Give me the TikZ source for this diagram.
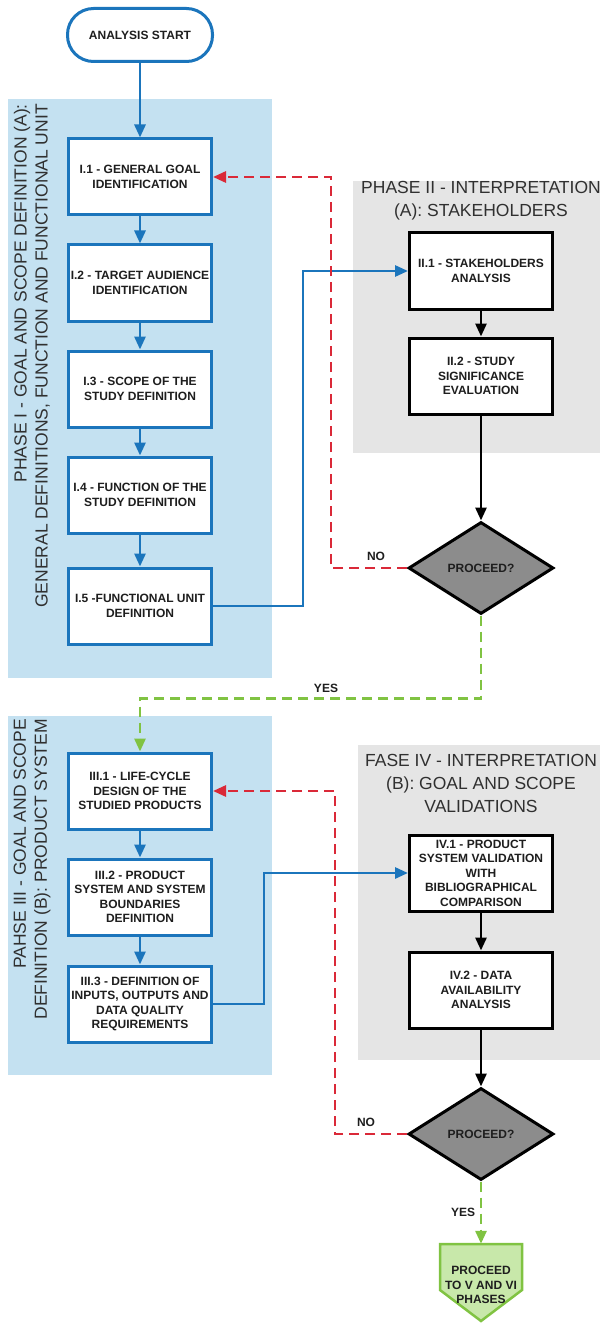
\documentclass[tikz,border=0pt]{standalone}
\usepackage{fontspec}
\setmainfont{Liberation Sans}
\usetikzlibrary{shapes, shapes.geometric, arrows.meta, positioning}

\definecolor{fondoazul}{RGB}{196,225,241}
\definecolor{fondogris}{RGB}{229,229,229}
\definecolor{lineaazul}{RGB}{27,117,188}
\definecolor{rojo}{RGB}{218,41,56}
\definecolor{verde}{RGB}{128,195,66}
\definecolor{verdeclaro}{RGB}{200,232,170}
\definecolor{rombo}{RGB}{140,140,140}
\definecolor{texto}{RGB}{30,30,30}
\definecolor{textofase}{RGB}{48,48,48}

\tikzstyle{inicio} = [draw=lineaazul, line width=3pt, fill=white, rectangle, rounded corners=26pt, minimum width=145pt, minimum height=53pt, font=\fontsize{12}{14.5}\selectfont\bfseries, text=texto]
\tikzstyle{pasoazul} = [draw=lineaazul, line width=3pt, fill=white, rectangle, minimum width=143pt, minimum height=76pt, inner sep=2pt, align=center, font=\fontsize{12}{14.5}\selectfont\bfseries, text=texto]
\tikzstyle{pasonegro} = [pasoazul, draw=black]
\tikzstyle{decision} = [draw=black, line width=3pt, fill=rombo, diamond, minimum width=145pt, minimum height=92pt, inner sep=0pt, font=\fontsize{12}{14.5}\selectfont\bfseries, text=texto]
\tikzstyle{formafinal} = [draw=verde, line width=2.5pt, fill=verdeclaro]
\tikzstyle{textofinal} = [rectangle, minimum width=82pt, minimum height=82pt, inner sep=0pt, align=center, font=\fontsize{12}{14.5}\selectfont\bfseries, text=texto]
\tikzstyle{titulolado} = [rotate=90, anchor=east, align=right, inner sep=0pt, font=\fontsize{17.5}{21}\selectfont, text=textofase]
\tikzstyle{titulofase} = [align=center, inner sep=0pt, font=\fontsize{17.5}{23}\selectfont, text=textofase]
\tikzstyle{etiqueta} = [inner sep=0pt, font=\fontsize{12}{14}\selectfont\bfseries, text=texto]
\tikzstyle{flechaazul} = [draw=lineaazul, line width=2.8pt, -{Triangle[length=13pt, width=11pt]}]
\tikzstyle{flechanegra} = [draw=black, line width=2.8pt, -{Triangle[length=13pt, width=11pt]}]
\tikzstyle{no} = [draw=rojo, line width=2.8pt, dash pattern=on 10pt off 6pt, -{Triangle[length=13pt, width=11pt]}]
\tikzstyle{si} = [draw=verde, line width=2.8pt, dash pattern=on 10pt off 6pt, -{Triangle[length=13pt, width=11pt]}]

\begin{document}
\begin{tikzpicture}[x=1pt, y=-1pt]
	\useasboundingbox (0,0) rectangle (603,1324);
	% fondos de las fases
	\fill[fondoazul] (8,99) rectangle (272,678);
	\fill[fondogris] (353,181) rectangle (600,453);
	\fill[fondoazul] (8,716) rectangle (272,1075);
	\fill[fondogris] (358,745) rectangle (600,1060);
	\node[titulolado] (tfase1) at (32,104) {PHASE I - GOAL AND SCOPE DEFINITION (A):\\GENERAL DEFINITIONS, FUNCTION AND FUNCTIONAL UNIT};
	\node[titulolado] (tfase3) at (32,719) {PAHSE III - GOAL AND SCOPE\\DEFINITION (B): PRODUCT SYSTEM};
	\node[titulofase] (tfase2) at (481,201) {PHASE II - INTERPRETATION\\(A): STAKEHOLDERS};
	\node[titulofase] (tfase4) at (481,783) {FASE IV - INTERPRETATION\\(B): GOAL AND SCOPE\\VALIDATIONS};

	% fase I
	\node[inicio] (inicio) at (140,35) {ANALYSIS START};
	\node[pasoazul] (i1) at (140,177) {I.1 - GENERAL GOAL\\IDENTIFICATION};
	\node[pasoazul] (i2) at (140,283) {I.2 - TARGET AUDIENCE\\IDENTIFICATION};
	\node[pasoazul] (i3) at (140,389) {I.3 - SCOPE OF THE\\STUDY DEFINITION};
	\node[pasoazul] (i4) at (140,495) {I.4 - FUNCTION OF THE\\STUDY DEFINITION};
	\node[pasoazul] (i5) at (140,606) {I.5 -FUNCTIONAL UNIT\\DEFINITION};

	% fase II
	\node[pasonegro] (ii1) at (481,271) {II.1 - STAKEHOLDERS\\ANALYSIS};
	\node[pasonegro] (ii2) at (481,376) {II.2 - STUDY\\SIGNIFICANCE\\EVALUATION};
	\node[decision] (dec1) at (481,568) {PROCEED?};

	% fase III
	\node[pasoazul] (iii1) at (140,791) {III.1 - LIFE-CYCLE\\DESIGN OF THE\\STUDIED PRODUCTS};
	\node[pasoazul] (iii2) at (140,897) {III.2 - PRODUCT\\SYSTEM AND SYSTEM\\BOUNDARIES\\DEFINITION};
	\node[pasoazul] (iii3) at (140,1004) {III.3 - DEFINITION OF\\INPUTS, OUTPUTS AND\\DATA QUALITY\\REQUIREMENTS};

	% fase IV
	\node[pasonegro] (iv1) at (481,873) {IV.1 - PRODUCT\\SYSTEM VALIDATION\\WITH\\BIBLIOGRAPHICAL\\COMPARISON};
	\node[pasonegro] (iv2) at (481,990) {IV.2 - DATA\\AVAILABILITY\\ANALYSIS};
	\node[decision] (dec2) at (481,1134) {PROCEED?};
	% final: pentagono hacia abajo
	\filldraw[formafinal] (440,1244) -- (522,1244) -- (522,1290) -- (481,1321) -- (440,1290) -- cycle;
	\node[textofinal] (fin) at (481,1285) {PROCEED\\TO V AND VI\\PHASES};

	% conexiones
	\draw[flechaazul] (inicio) -- (i1);
	\draw[flechaazul] (i1) -- (i2);
	\draw[flechaazul] (i2) -- (i3);
	\draw[flechaazul] (i3) -- (i4);
	\draw[flechaazul] (i4) -- (i5);
	\draw[flechaazul] (i5.east) -- ++(90,0) |- (ii1.west);
	\draw[flechanegra] (ii1) -- (ii2);
	\draw[flechanegra] (ii2) -- (dec1);
	\draw[no] (dec1.west) -- ++(-76,0) |- (i1.east);
	\node[etiqueta] (no1) at (376,556) {NO};
	\draw[si] (dec1.south) -- ++(0,83) -| (iii1.north);
	\node[etiqueta] (si1) at (326,688) {YES};

	\draw[flechaazul] (iii1) -- (iii2);
	\draw[flechaazul] (iii2) -- (iii3);
	\draw[flechaazul] (iii3.east) -- ++(51,0) |- (iv1.west);
	\draw[flechanegra] (iv1) -- (iv2);
	\draw[flechanegra] (iv2) -- (dec2);
	\draw[no] (dec2.west) -- ++(-72,0) |- (iii1.east);
	\node[etiqueta] (no2) at (366,1122) {NO};
	\draw[si] (dec2.south) -- (fin.north);
	\node[etiqueta] (si2) at (463,1212) {YES};
\end{tikzpicture}
\end{document}
